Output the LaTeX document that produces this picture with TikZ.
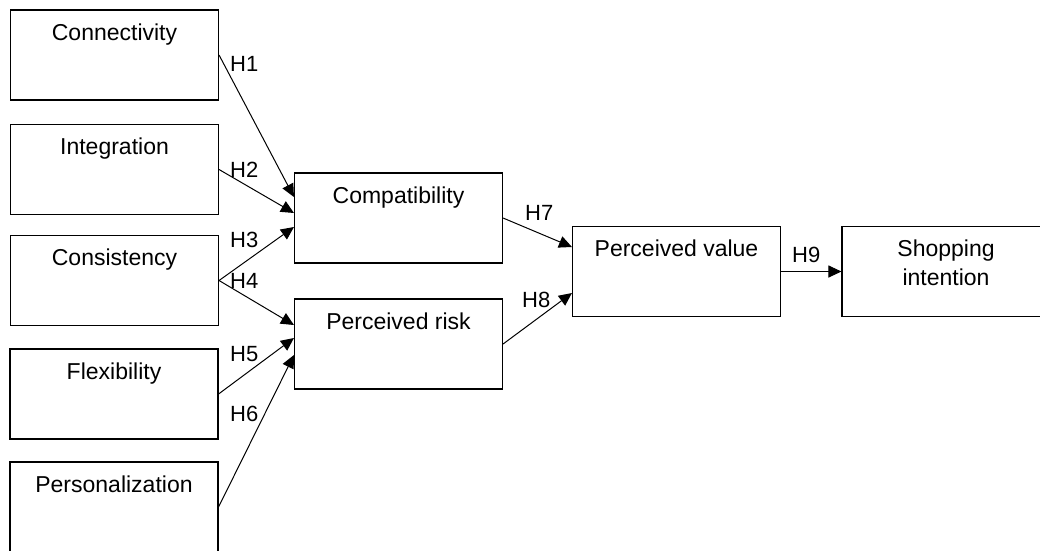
\documentclass[tikz,border=0pt]{standalone}
\usepackage{fontspec}
\setmainfont{Liberation Sans}
\usetikzlibrary{arrows.meta}

\begin{document}
\begin{tikzpicture}[x=1pt, y=-1pt,
  construct/.style={draw, line width=1.1pt, minimum width=208pt, minimum height=90pt, inner sep=0pt},
  title/.style={anchor=north, align=center, inner sep=0pt, yshift=-14pt, font=\fontsize{23}{29}\selectfont},
  hyp/.style={draw, line width=1pt, -{Triangle[length=13pt,width=12pt]}},
  hlabel/.style={anchor=west, inner sep=0pt, font=\fontsize{22}{24}\selectfont}]

\useasboundingbox (0,0) rectangle (1040,550);
\clip (0,0) rectangle (1040,550);

\node[construct, label={[title]north:Connectivity}] (connectivity) at (114.5,55) {};
\node[construct, label={[title]north:Integration}] (integration) at (114.5,169.5) {};
\node[construct, label={[title]north:Consistency}] (consistency) at (114.5,280.5) {};
\node[construct, label={[title]north:Flexibility}] (flexibility) at (114,394) {};
\node[construct, label={[title]north:Personalization}] (personalization) at (114,507) {};

\node[construct, label={[title]north:Compatibility}] (compat) at (398.5,218) {};
\node[construct, label={[title]north:Perceived risk}] (risk) at (398.5,344) {};
\node[construct, label={[title]north:Perceived value}] (value) at (676.5,271.5) {};
\node[construct, label={[title]north:Shopping\\intention}] (intention) at (946,271.5) {};

\draw[hyp] (connectivity.east) -- ([yshift=21pt]compat.west);
\draw[hyp] (integration.east) -- ([yshift=5pt]compat.west);
\draw[hyp] (consistency.east) -- ([yshift=-9pt]compat.west);
\draw[hyp] (consistency.east) -- ([yshift=19pt]risk.west);
\draw[hyp] (flexibility.east) -- ([yshift=6pt]risk.west);
\draw[hyp] (personalization.east) -- ([yshift=-11pt]risk.west);
\draw[hyp] (compat.east) -- ([yshift=24.5pt]value.west);
\draw[hyp] (risk.east) -- ([yshift=-21.5pt]value.west);
\draw[hyp] (value.east) -- (intention.west);

\node[hlabel] (h1) at (230,64) {H1};
\node[hlabel] (h2) at (230,170) {H2};
\node[hlabel] (h3) at (230,240) {H3};
\node[hlabel] (h4) at (230,281) {H4};
\node[hlabel] (h5) at (230,354) {H5};
\node[hlabel] (h6) at (230,414) {H6};
\node[hlabel] (h7) at (525,213) {H7};
\node[hlabel] (h8) at (522,300) {H8};
\node[hlabel] (h9) at (792,255) {H9};
\end{tikzpicture}
\end{document}
